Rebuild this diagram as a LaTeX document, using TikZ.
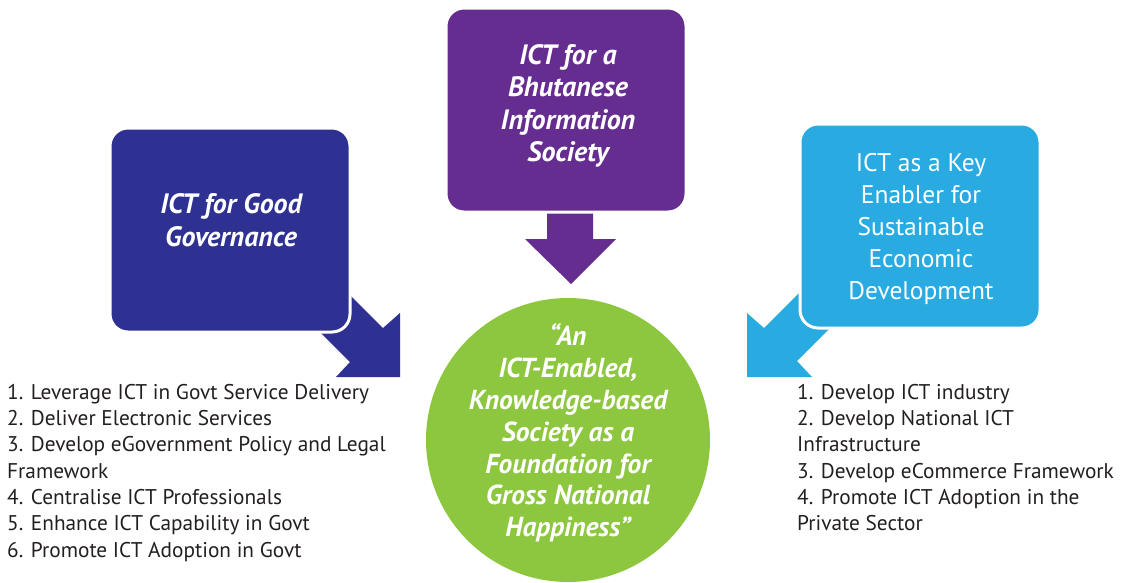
\documentclass[tikz,border=0pt]{standalone}
\usepackage{fontspec}
\setmainfont{PT Sans}
\usepackage{tikz}
\usetikzlibrary{positioning, shapes.geometric}

\definecolor{govblue}{HTML}{2E3192}
\definecolor{socpurple}{HTML}{662D91}
\definecolor{econcyan}{HTML}{29ABE2}
\definecolor{visgreen}{HTML}{8DC63F}
\definecolor{listgray}{HTML}{231F20}

\tikzset{
  pillar/.style={draw=white, line width=3pt, rounded corners=18pt,
    minimum width=240pt, minimum height=204pt},
  pillartext/.style={align=center, text=white, inner sep=0pt},
  vision/.style={circle, fill=visgreen, minimum size=284pt, inner sep=0pt},
  goals/.style={anchor=north west, align=left, inner sep=0pt,
    text=listgray, font=\fontsize{21.3}{26.3}\selectfont},
}

\begin{document}
\begin{tikzpicture}[x=1pt, y=-1pt]
  \useasboundingbox (0,0) rectangle (1136,582);

  % block arrows, drawn first so the boxes sit on top
  \fill[govblue] (400,377) -- (336,377) -- (350,362) -- (300,312)
    -- (333,278) -- (383,328) -- (400,313) -- cycle;
  \fill[socpurple] (547,200) -- (593,200) -- (593,239) -- (616,239)
    -- (571,284) -- (525,239) -- (547,239) -- cycle;
  \fill[econcyan] (747,377) -- (747,313) -- (764,328) -- (814,278)
    -- (847,311) -- (797,361) -- (812,377) -- cycle;

  \node[pillar, fill=govblue] (gov) at (230,230) {};
  \node[pillar, fill=socpurple] (soc) at (566,110) {};
  \node[pillar, fill=econcyan] (econ) at (920,226) {};
  \node[vision] (gnh) at (568,440) {};

  \node[pillartext, font=\fontsize{28}{33}\selectfont\bfseries\itshape]
    (govtext) at (231,220) {ICT for Good\\ Governance};
  \node[pillartext, font=\fontsize{28}{32.5}\selectfont\bfseries\itshape]
    (soctext) at (568,106) {ICT for a\\ Bhutanese\\ Information\\ Society};
  \node[pillartext, font=\fontsize{25.5}{32}\selectfont]
    (econtext) at (921,229)
    {ICT as a Key\\ Enabler for\\ Sustainable\\ Economic\\ Development};
  \node[pillartext, font=\fontsize{27.5}{31.8}\selectfont\bfseries\itshape]
    (gnhtext) at (568,433)
    {“An\\ ICT-Enabled,\\ Knowledge-based\\ Society as a\\
     Foundation for\\ Gross National\\ Happiness”};

  \node[goals] (govlist) at (7,384)
    {1. Leverage ICT in Govt Service Delivery\\
     2. Deliver Electronic Services\\
     3. Develop eGovernment Policy and Legal\\
     Framework\\
     4. Centralise ICT Professionals\\
     5. Enhance ICT Capability in Govt\\
     6. Promote ICT Adoption in Govt};
  \node[goals] (econlist) at (797,384)
    {1. Develop ICT industry\\
     2. Develop National ICT\\
     Infrastructure\\
     3. Develop eCommerce Framework\\
     4. Promote ICT Adoption in the\\
     Private Sector};
\end{tikzpicture}
\end{document}
